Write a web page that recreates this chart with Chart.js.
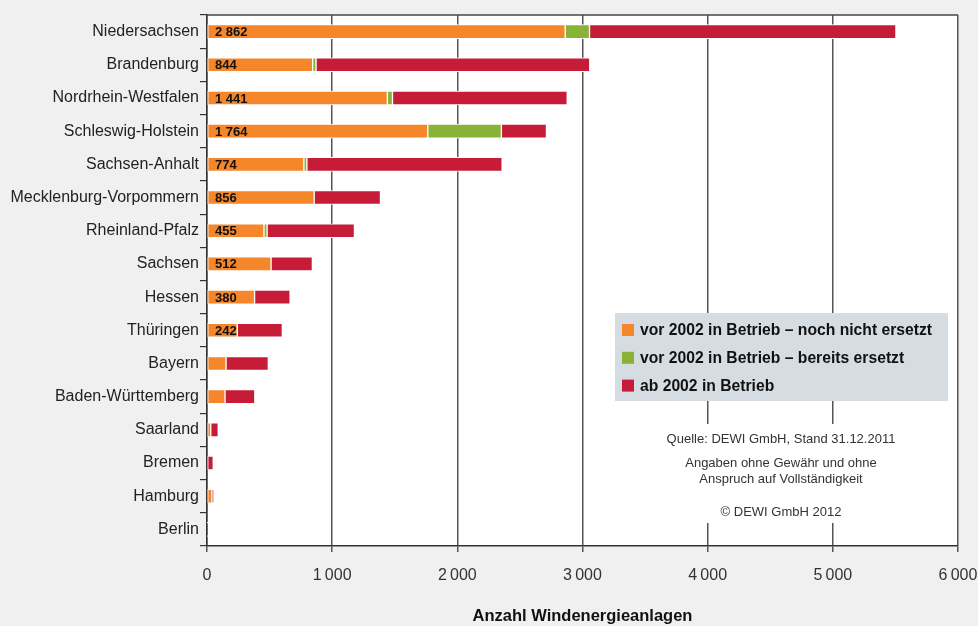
<!DOCTYPE html>
<html>
<head>
<meta charset="utf-8">
<script src="https://cdn.jsdelivr.net/npm/chart.js@4/dist/chart.umd.min.js"></script>
<style>
  html, body { margin: 0; padding: 0; background: #f0f0f0; }
  #wrap { width: 978px; height: 626px; }
</style>
</head>
<body>
<div id="wrap"><canvas id="windChart" width="978" height="626"></canvas></div>
<script>
const states = ['Niedersachsen', 'Brandenburg', 'Nordrhein-Westfalen', 'Schleswig-Holstein',
    'Sachsen-Anhalt', 'Mecklenburg-Vorpommern', 'Rheinland-Pfalz', 'Sachsen', 'Hessen',
    'Thüringen', 'Bayern', 'Baden-Württemberg', 'Saarland', 'Bremen', 'Hamburg', 'Berlin'];
const vorNichtErsetzt = [2862, 844, 1441, 1764, 774, 856, 455, 512, 380, 242, 152, 144, 30, 0, 40, 0];
const vorErsetzt = [194, 27, 41, 588, 24, 0, 25, 0, 0, 0, 0, 0, 0, 0, 0, 0];
const ab2002 = [2448, 2187, 1396, 360, 1560, 530, 698, 330, 284, 360, 338, 238, 60, 50, 15, 1];
const barLabels = ['2 862', '844', '1 441', '1 764', '774', '856', '455', '512', '380', '242',
    '', '', '', '', '', ''];
const seriesNames = ['vor 2002 in Betrieb – noch nicht ersetzt', 'vor 2002 in Betrieb – bereits ersetzt', 'ab 2002 in Betrieb'];
const seriesColors = ['#f5862a', '#88b337', '#c61c38'];
const sourceLines = ['Quelle: DEWI GmbH, Stand 31.12.2011', '', 'Angaben ohne Gewähr und ohne', 'Anspruch auf Vollständigkeit', '', '© DEWI GmbH 2012'];

const sans = "'Liberation Sans', Arial, sans-serif";

// draws backgrounds, top border, in-bar numbers, legend box and the source note
const decor = {
    id: 'decor',
    beforeDraw(chart) {
        const { ctx, chartArea: a } = chart;
        ctx.save();
        ctx.fillStyle = '#ffffff';
        ctx.fillRect(a.left, a.top, a.right - a.left, a.bottom - a.top);
        ctx.restore();
    },
    afterDatasetsDraw(chart) {
        const { ctx, chartArea: a } = chart;
        ctx.save();
        // top line
        ctx.strokeStyle = '#444';
        ctx.lineWidth = 1.5;
        ctx.beginPath();
        ctx.moveTo(a.left, a.top);
        ctx.lineTo(a.right, a.top);
        ctx.stroke();

        // numbers in the orange bars
        const meta = chart.getDatasetMeta(0);
        ctx.fillStyle = '#111';
        ctx.font = 'bold 13px ' + sans;
        ctx.textBaseline = 'middle';
        ctx.textAlign = 'left';
        meta.data.forEach((bar, i) => {
            if (barLabels[i]) ctx.fillText(barLabels[i], a.left + 8, bar.y + 1);
        });

        // legend
        const lx = 615, ly = 313, lw = 333, lh = 88;
        ctx.fillStyle = '#d5dde2';
        ctx.fillRect(lx, ly, lw, lh);
        ctx.font = 'bold 15.7px ' + sans;
        chart.data.datasets.forEach((ds, i) => {
            const cy = 330 + i * 27.8;
            ctx.fillStyle = ds.backgroundColor;
            ctx.fillRect(622, cy - 6, 12, 12);
            ctx.fillStyle = '#111';
            ctx.fillText(ds.label, 640, cy + 1);
        });

        // source note on a white patch
        ctx.fillStyle = '#ffffff';
        ctx.fillRect(650, 424, 262, 99);
        ctx.fillStyle = '#333';
        ctx.font = '13px ' + sans;
        ctx.textAlign = 'center';
        const ys = [439, 451, 463, 479, 495, 512];
        sourceLines.forEach((t, i) => { if (t) ctx.fillText(t, 781, ys[i]); });
        ctx.restore();
    }
};

new Chart(document.getElementById('windChart'), {
    type: 'bar',
    data: {
        labels: states,
        datasets: [
            { label: seriesNames[0], data: vorNichtErsetzt, backgroundColor: seriesColors[0] },
            { label: seriesNames[1], data: vorErsetzt, backgroundColor: seriesColors[1] },
            { label: seriesNames[2], data: ab2002, backgroundColor: seriesColors[2] }
        ]
    },
    options: {
        indexAxis: 'y',
        responsive: false,
        animation: false,
        devicePixelRatio: 1,
        datasets: {
            bar: {
                barThickness: 14,
                borderColor: '#ffffff',
                borderWidth: 1,
                borderSkipped: false
            }
        },
        layout: { padding: { top: 15, right: 20, left: 0, bottom: 0 } },
        plugins: {
            legend: { display: false },
            tooltip: { enabled: false }
        },
        scales: {
            x: {
                stacked: true,
                min: 0,
                max: 6000,
                afterFit: (s) => { s.height = 80; s.paddingRight = 0; s.paddingLeft = 0; },
                ticks: {
                    stepSize: 1000,
                    color: '#333',
                    padding: 14,
                    font: { family: sans, size: 16 },
                    callback: (v) => v >= 1000 ? String(v).replace(/(\d)(\d{3})$/, '$1\u2009$2') : String(v)
                },
                grid: { color: '#555', lineWidth: 1.5, tickLength: 6 },
                border: { color: '#333', width: 1.5 },
                title: {
                    display: true,
                    text: 'Anzahl Windenergieanlagen',
                    color: '#111',
                    font: { family: sans, size: 16.5, weight: 'bold' },
                    padding: { top: 0, bottom: 0 }
                }
            },
            y: {
                stacked: true,
                afterFit: (s) => { s.width = 207; },
                ticks: {
                    color: '#222',
                    padding: 1,
                    font: { family: sans, size: 16 }
                },
                grid: { offset: true, drawOnChartArea: false, color: '#333', tickLength: 7, lineWidth: 1.2 },
                border: { color: '#333', width: 1.5 }
            }
        }
    },
    plugins: [decor]
});
</script>
</body>
</html>
